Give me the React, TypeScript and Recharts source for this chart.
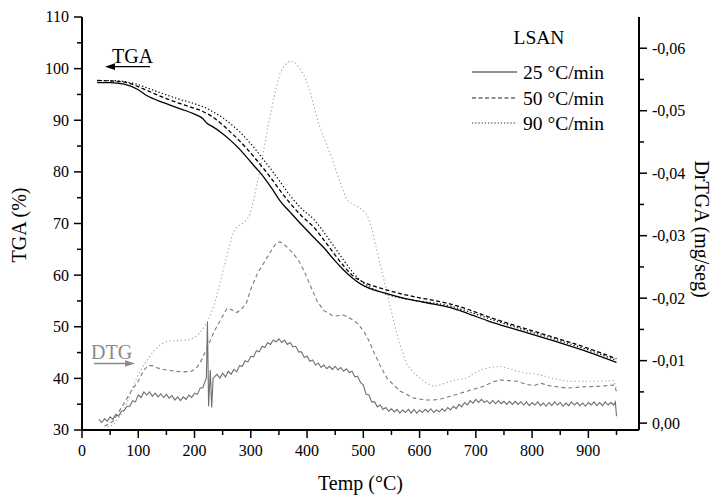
import React from 'react';
import { ComposedChart, Line, XAxis, YAxis, Legend } from 'recharts';

const FONT = '"Liberation Serif", "Times New Roman", serif';

// axis ticks (majors get a label, the others are minor marks)
const tempTicks = [0, 50, 100, 150, 200, 250, 300, 350, 400, 450, 500, 550, 600, 650, 700, 750, 800, 850, 900, 950];
const tgaTicks = [30, 35, 40, 45, 50, 55, 60, 65, 70, 75, 80, 85, 90, 95, 100, 105, 110];
const dtgTicks = [-0.06, -0.055, -0.05, -0.045, -0.04, -0.035, -0.03, -0.025, -0.02, -0.015, -0.01, -0.005, 0];

const seriesNames = ['25 °C/min', '50 °C/min', '90 °C/min'];

// TGA (%) curves, shared temperature grid
const tgaTemp = [27, 50, 75, 100, 115, 145, 175, 200, 215, 222, 230, 250, 264, 280, 293, 308, 323, 338, 352, 370, 390, 412, 430, 447, 465, 480, 495, 510, 536, 566, 596, 625, 655, 685, 720, 780, 840, 900, 950];
const tga25 = [97.3, 97.3, 97.0, 95.9, 94.8, 93.4, 92.2, 91.2, 90.3, 89.4, 88.9, 87.4, 86.1, 84.4, 82.8, 80.9, 79.0, 76.7, 74.4, 72.2, 69.8, 67.3, 65.3, 63.1, 61.0, 59.5, 58.3, 57.5, 56.6, 55.7, 55.0, 54.4, 53.7, 52.6, 51.2, 49.2, 47.2, 45.1, 43.1];
const tga50 = [97.7, 97.6, 97.4, 96.5, 95.8, 94.4, 93.2, 92.3, 91.7, 91.3, 90.8, 89.1, 87.7, 86.0, 84.5, 82.6, 80.6, 78.5, 76.4, 73.9, 71.5, 69.3, 66.8, 64.3, 61.8, 60.0, 58.9, 58.2, 57.3, 56.4, 55.7, 55.1, 54.4, 53.4, 52.0, 49.9, 47.9, 45.8, 43.8];
const tga90 = [97.7, 97.7, 97.5, 96.9, 96.3, 95.1, 94.0, 93.2, 92.6, 92.3, 91.8, 90.5, 89.3, 87.8, 86.3, 84.4, 82.3, 80.2, 78.1, 75.4, 72.9, 70.8, 68.3, 65.7, 62.9, 60.7, 59.0, 57.8, 56.5, 55.6, 55.0, 54.6, 54.0, 53.0, 51.7, 49.6, 47.6, 45.5, 43.5];

// DrTGA (mg/seg), 25 °C/min
const dtg25Temp = [
  30, 35, 40, 45, 50, 55, 60, 65, 70, 75,
  80, 85, 90, 95, 100, 105, 110, 115, 120, 125,
  130, 135, 140, 145, 150, 155, 160, 165, 170, 175,
  180, 185, 190, 195, 200, 205, 210, 215, 220,
  221, 223, 225, 228, 230.5, 233,
  240, 245, 250, 255, 260, 265, 270, 275, 280, 285,
  290, 295, 300, 305, 310, 315, 320, 325, 330, 335,
  340, 345, 350, 355, 360, 365, 370, 375, 380, 385,
  390, 395, 400, 405, 410, 415, 420, 425, 430, 435,
  440, 445, 450, 455, 460, 465, 470, 475, 480, 485,
  490, 495, 500, 505, 510, 515, 520, 525, 530, 535,
  540, 545, 550, 555, 560, 565, 570, 575, 580, 585,
  590, 595, 600, 605, 610, 615, 620, 625, 630, 635,
  640, 645, 650, 655, 660, 665, 670, 675, 680, 685,
  690, 695, 700, 705, 710, 715, 720, 725, 730, 735,
  740, 745, 750, 755, 760, 765, 770, 775, 780, 785,
  790, 795, 800, 805, 810, 815, 820, 825, 830, 835,
  840, 845, 850, 855, 860, 865, 870, 875, 880, 885,
  890, 895, 900, 905, 910, 915, 920, 925, 930, 935,
  940, 945, 948, 950,
];
const dtg25 = [
  -0.0006, -0.0001, -0.0007, -0.0003, -0.001, -0.0006, -0.0014, -0.0011, -0.0019, -0.002,
  -0.0027, -0.0027, -0.0036, -0.0034, -0.0045, -0.0041, -0.005, -0.0045, -0.005, -0.0043,
  -0.0048, -0.0042, -0.0047, -0.0041, -0.0046, -0.004, -0.0044, -0.0037, -0.0042, -0.0036,
  -0.0042, -0.0038, -0.0045, -0.0041, -0.0048, -0.0046, -0.0056, -0.0057, -0.007,
  -0.0072, -0.0162, -0.0027, -0.0085, -0.0025, -0.0072,
  -0.0078, -0.0072, -0.008, -0.0074, -0.0083, -0.0078, -0.0086, -0.0082, -0.0092, -0.0091,
  -0.01, -0.0098, -0.0107, -0.0106, -0.0116, -0.0114, -0.0123, -0.0121, -0.0129, -0.0126,
  -0.0133, -0.013, -0.0135, -0.0129, -0.0133, -0.0126, -0.0129, -0.0122, -0.0123, -0.0114,
  -0.0114, -0.0105, -0.0107, -0.0099, -0.0101, -0.0093, -0.0096, -0.0089, -0.0093, -0.0087,
  -0.0091, -0.0086, -0.0091, -0.0085, -0.0089, -0.0083, -0.0087, -0.0081, -0.0083, -0.0074,
  -0.0075, -0.0065, -0.0061, -0.0046, -0.0045, -0.0034, -0.0034, -0.0026, -0.0029, -0.0022,
  -0.0025, -0.0019, -0.0023, -0.0018, -0.0022, -0.0016, -0.0021, -0.0017, -0.0022, -0.0016,
  -0.0022, -0.0016, -0.0021, -0.0017, -0.0022, -0.0018, -0.0023, -0.0017, -0.0021, -0.0018,
  -0.0023, -0.0019, -0.0025, -0.0021, -0.0027, -0.0023, -0.003, -0.0026, -0.0033, -0.0029,
  -0.0036, -0.0032, -0.0038, -0.0033, -0.0038, -0.0033, -0.0036, -0.0031, -0.0036, -0.0031,
  -0.0036, -0.0031, -0.0035, -0.003, -0.0035, -0.003, -0.0035, -0.003, -0.0034, -0.0029,
  -0.0034, -0.0028, -0.0033, -0.0029, -0.0034, -0.0028, -0.0032, -0.0027, -0.0033, -0.0028,
  -0.0034, -0.0029, -0.0033, -0.0027, -0.0032, -0.0028, -0.0034, -0.0029, -0.0033, -0.0028,
  -0.0032, -0.0027, -0.0033, -0.0029, -0.0034, -0.0028, -0.0033, -0.0028, -0.0034, -0.0029,
  -0.0033, -0.0029, -0.0034, -0.0011,
];

// DrTGA (mg/seg), 50 °C/min
const dtg50Temp = [40, 55, 75, 90, 100, 110, 118, 125, 135, 150, 165, 180, 195, 205, 212, 222, 235, 250, 258, 265, 275, 283, 292, 300, 312, 325, 335, 345, 352, 362, 375, 385, 394, 405, 418, 430, 447, 465, 478, 489, 501, 510, 518, 530, 542, 555, 566, 590, 610, 625, 640, 655, 684, 714, 730, 744, 760, 773, 790, 803, 815, 830, 862, 890, 921, 945, 950];
const dtg50 = [0.0005, -0.0003, -0.0032, -0.0055, -0.0067, -0.0085, -0.0092, -0.0092, -0.0088, -0.0085, -0.0083, -0.0082, -0.0083, -0.009, -0.01, -0.012, -0.0147, -0.0171, -0.0184, -0.0182, -0.0177, -0.0182, -0.0192, -0.0214, -0.024, -0.0259, -0.0274, -0.0288, -0.029, -0.0284, -0.0272, -0.026, -0.0245, -0.0222, -0.0195, -0.018, -0.0171, -0.0173, -0.0167, -0.016, -0.0147, -0.0132, -0.0115, -0.0092, -0.0072, -0.006, -0.0051, -0.004, -0.0037, -0.0037, -0.0039, -0.0043, -0.0051, -0.0059, -0.0066, -0.0069, -0.0068, -0.0067, -0.0062, -0.006, -0.0064, -0.006, -0.0056, -0.0058, -0.0059, -0.0061, -0.0051];

// DrTGA (mg/seg), 90 °C/min
const dtg90Temp = [45, 56, 65, 74, 83, 92, 100, 110, 120, 127, 140, 151, 163, 175, 187, 198, 208, 216, 224, 231, 239, 246, 252, 258, 267, 276, 283, 293, 299, 305, 314, 323, 330, 338, 345, 352, 360, 370, 380, 388, 394, 400, 406, 412, 421, 436, 445, 453, 462, 471, 480, 489, 500, 507, 513, 518, 527, 536, 545, 554, 565, 578, 590, 601, 612, 625, 640, 655, 670, 684, 696, 708, 725, 744, 760, 773, 790, 803, 815, 835, 862, 890, 921, 945, 950];
const dtg90 = [0.0006, 0.0003, -0.0008, -0.0019, -0.004, -0.0061, -0.0078, -0.0093, -0.0106, -0.0115, -0.0126, -0.0131, -0.0132, -0.0132, -0.0133, -0.0136, -0.0143, -0.0152, -0.0165, -0.0179, -0.0202, -0.0227, -0.0248, -0.0269, -0.0301, -0.0315, -0.0318, -0.0325, -0.0335, -0.0357, -0.0395, -0.0437, -0.0473, -0.0507, -0.0536, -0.056, -0.0573, -0.058, -0.0576, -0.0566, -0.0558, -0.0545, -0.0528, -0.0508, -0.0478, -0.0443, -0.0422, -0.04, -0.0378, -0.0357, -0.0351, -0.0347, -0.034, -0.0333, -0.0318, -0.03, -0.0265, -0.0232, -0.0197, -0.0163, -0.0125, -0.0093, -0.008, -0.0072, -0.0064, -0.0059, -0.0062, -0.0067, -0.007, -0.0072, -0.0079, -0.0085, -0.0089, -0.0091, -0.0087, -0.0083, -0.008, -0.0079, -0.0077, -0.0072, -0.0067, -0.0067, -0.0067, -0.0068, -0.0055];

const toPoints = (temps: number[], values: number[]) => temps.map((t, i) => ({ t, v: values[i] }));

const tickText = { fontFamily: FONT, fontSize: 16, fill: '#000' };

const BottomTick = ({ x, y, payload }: any) => {
  const major = payload.value % 100 === 0;
  return (
    <g>
      <line x1={x} x2={x} y1={y} y2={y + (major ? 8 : 5)} stroke="#000" strokeWidth={1.5} />
      {major && (
        <text x={x} y={y + 26} textAnchor="middle" style={tickText}>
          {payload.value}
        </text>
      )}
    </g>
  );
};

const TopTick = ({ x, y, payload }: any) => {
  const major = payload.value % 100 === 0;
  return <line x1={x} x2={x} y1={y} y2={y - (major ? 4 : 3)} stroke="#000" strokeWidth={1.2} />;
};

const LeftTick = ({ x, y, payload }: any) => {
  const major = payload.value % 10 === 0;
  return (
    <g>
      <line x1={x} x2={x - (major ? 8 : 5)} y1={y} y2={y} stroke="#000" strokeWidth={1.5} />
      {major && (
        <text x={x - 13} y={y} dy="0.34em" textAnchor="end" style={tickText}>
          {payload.value}
        </text>
      )}
    </g>
  );
};

const RightTick = ({ x, y, payload }: any) => {
  const major = Math.round(Math.abs(payload.value) * 1000) % 10 === 0;
  return (
    <g>
      <line x1={x} x2={x + (major ? 8 : 5)} y1={y} y2={y} stroke="#000" strokeWidth={1.5} />
      {major && (
        <text x={x + 13} y={y} dy="0.34em" textAnchor="start" style={tickText}>
          {Number(payload.value).toFixed(2).replace('.', ',')}
        </text>
      )}
    </g>
  );
};

const LegendBox = () => {
  const rows = [50, 76, 101];
  const dashes = ['0', '4 2.5', '1.2 2'];
  return (
    <svg width={170} height={120} style={{ fontFamily: FONT, overflow: 'visible' }}>
      <text x={74} y={22} textAnchor="middle" fontSize={19.5} fill="#000">LSAN</text>
      {seriesNames.map((name, i) => (
        <g key={name}>
          <line x1={7} x2={52} y1={rows[i]} y2={rows[i]} stroke="#222" strokeWidth={1.2} strokeDasharray={dashes[i]} />
          <text x={58} y={rows[i] + 7} fontSize={19.5} fill="#000">{name}</text>
        </g>
      ))}
    </svg>
  );
};

export default function App() {
  return (
    <div style={{ position: 'absolute', left: 0, top: 0, width: 716, height: 495, background: '#fff' }}>
      <ComposedChart width={716} height={495} margin={{ top: 17, right: 0, bottom: 0, left: 0 }} style={{ fontFamily: FONT }}>
        <XAxis
          xAxisId="bottom"
          type="number"
          dataKey="t"
          domain={[0, 990]}
          allowDataOverflow
          ticks={tempTicks}
          interval={0}
          height={65}
          tickSize={0}
          tickMargin={0}
          tickLine={false}
          tick={BottomTick}
          axisLine={{ stroke: '#000', strokeWidth: 2 }}
          label={{ value: 'Temp (°C)', position: 'insideBottom', offset: 5, fontSize: 20, fontFamily: FONT, fill: '#000' }}
        />
        <XAxis
          xAxisId="top"
          orientation="top"
          type="number"
          domain={[0, 990]}
          allowDataOverflow
          ticks={tempTicks}
          interval={0}
          height={0}
          tickSize={0}
          tickMargin={0}
          tickLine={false}
          tick={TopTick}
          axisLine={{ stroke: '#000', strokeWidth: 2 }}
        />
        <YAxis
          yAxisId="left"
          orientation="left"
          type="number"
          domain={[30, 110]}
          allowDataOverflow
          ticks={tgaTicks}
          interval={0}
          width={82}
          tickSize={0}
          tickMargin={0}
          tickLine={false}
          tick={LeftTick}
          axisLine={{ stroke: '#000', strokeWidth: 2 }}
        />
        <YAxis
          yAxisId="right"
          orientation="right"
          type="number"
          domain={[-0.065, 0.0011]}
          reversed
          allowDataOverflow
          ticks={dtgTicks}
          interval={0}
          width={77}
          tickSize={0}
          tickMargin={0}
          tickLine={false}
          tick={RightTick}
          axisLine={{ stroke: '#000', strokeWidth: 2 }}
        />
        <Legend
          layout="vertical"
          align="center"
          verticalAlign="middle"
          content={() => <LegendBox />}
          wrapperStyle={{ left: 465, top: 22, width: 170, height: 120, margin: 0, padding: 0 }}
        />
        <Line data={toPoints(dtg90Temp, dtg90)} dataKey="v" name="DTG 90" xAxisId="bottom" yAxisId="right" type="linear" stroke="#a8a8a8" strokeWidth={1.1} strokeDasharray="1.3 2.5" dot={false} legendType="none" isAnimationActive={false} />
        <Line data={toPoints(dtg50Temp, dtg50)} dataKey="v" name="DTG 50" xAxisId="bottom" yAxisId="right" type="linear" stroke="#7a7a7a" strokeWidth={1.1} strokeDasharray="4 3" dot={false} legendType="none" isAnimationActive={false} />
        <Line data={toPoints(dtg25Temp, dtg25)} dataKey="v" name="DTG 25" xAxisId="bottom" yAxisId="right" type="linear" stroke="#6e6e6e" strokeWidth={1.1} dot={false} legendType="none" isAnimationActive={false} />
        <Line data={toPoints(tgaTemp, tga90)} dataKey="v" name={seriesNames[2]} xAxisId="bottom" yAxisId="left" type="monotone" stroke="#000" strokeWidth={1.2} strokeDasharray="1.3 2.2" dot={false} isAnimationActive={false} />
        <Line data={toPoints(tgaTemp, tga50)} dataKey="v" name={seriesNames[1]} xAxisId="bottom" yAxisId="left" type="monotone" stroke="#000" strokeWidth={1.3} strokeDasharray="4 2.5" dot={false} isAnimationActive={false} />
        <Line data={toPoints(tgaTemp, tga25)} dataKey="v" name={seriesNames[0]} xAxisId="bottom" yAxisId="left" type="monotone" stroke="#000" strokeWidth={1.3} dot={false} isAnimationActive={false} />
      </ComposedChart>
      <svg width={716} height={495} style={{ position: 'absolute', left: 0, top: 0, pointerEvents: 'none', fontFamily: FONT }}>
        <text transform="rotate(-90 19 225)" x={19} y={225} dy="0.34em" textAnchor="middle" fontSize={20} fill="#000">TGA (%)</text>
        <text transform="rotate(90 702 229)" x={702} y={229} dy="0.34em" textAnchor="middle" fontSize={20} fill="#000">DrTGA (mg/seg)</text>
        <text x={112} y={63} fontSize={20} fill="#000">TGA</text>
        <line x1={113} x2={150} y1={66.7} y2={66.7} stroke="#000" strokeWidth={1.3} />
        <polygon points="105,66.7 115,63.3 115,70.1" fill="#000" />
        <text x={91} y={359} fontSize={20} fill="#8a8a8a">DTG</text>
        <line x1={94} x2={127} y1={363.5} y2={363.5} stroke="#8a8a8a" strokeWidth={1.3} />
        <polygon points="135,363.5 125,360.2 125,366.8" fill="#8a8a8a" />
      </svg>
    </div>
  );
}
